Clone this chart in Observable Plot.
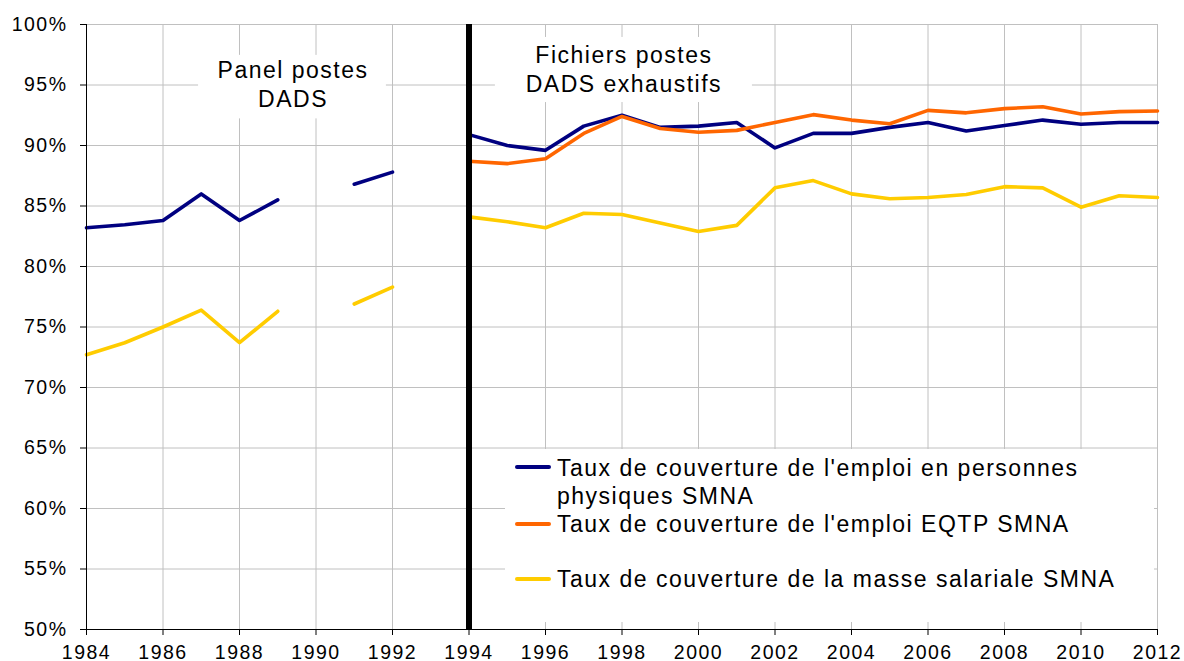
<!DOCTYPE html>
<html><head><meta charset="utf-8">
<script src="https://cdn.jsdelivr.net/npm/d3@7"></script>
<script src="https://cdn.jsdelivr.net/npm/@observablehq/plot@0.6"></script>
<style>
html,body{margin:0;padding:0;background:#fff;}
#wrap{position:relative;width:1184px;height:661px;overflow:hidden;font-family:"Liberation Sans",Arial,sans-serif;}
#legend{position:absolute;left:505px;top:449px;width:649px;height:173px;background:#fff;}
#legend .sw{position:absolute;left:10px;width:36px;height:4px;border-radius:2px;}
#legend .txt{position:absolute;left:52px;font-size:23px;line-height:28px;letter-spacing:1.5px;color:#000;white-space:nowrap;}
</style></head>
<body><div id="wrap"></div>
<script>
const years = [1984,1985,1986,1987,1988,1989,1990,1991,1992,1993,1994,1995,1996,1997,1998,1999,2000,2001,2002,2003,2004,2005,2006,2007,2008,2009,2010,2011,2012];
const personnes = [83.2,83.45,83.8,86.0,83.8,85.5,null,86.8,87.8,null,90.9,90.0,89.6,91.6,92.5,91.5,91.6,91.9,89.8,91.0,91.0,91.5,91.9,91.2,91.65,92.1,91.75,91.9,91.9];
const eqtp = [null,null,null,null,null,null,null,null,null,null,88.7,88.5,88.9,91.0,92.4,91.4,91.1,91.25,91.9,92.55,92.1,91.8,92.9,92.7,93.05,93.2,92.6,92.8,92.85];
const masse = [72.7,73.7,75.0,76.4,73.7,76.3,null,76.9,78.3,null,84.1,83.7,83.2,84.4,84.3,83.6,82.9,83.4,86.5,87.1,86.0,85.6,85.7,85.95,86.6,86.5,84.9,85.85,85.7];
const seriesNames = ["Taux de couverture de l'emploi en personnes physiques SMNA","Taux de couverture de l'emploi EQTP SMNA","Taux de couverture de la masse salariale SMNA"];
const legendLines = [["Taux de couverture de l'emploi en personnes","physiques SMNA"],["Taux de couverture de l'emploi EQTP SMNA"],["Taux de couverture de la masse salariale SMNA"]];
const seriesColors = ["#000080","#ff6600","#ffcc00"];
const xTicks = [1984,1986,1988,1990,1992,1994,1996,1998,2000,2002,2004,2006,2008,2010,2012];
const yTicks = [50,55,60,65,70,75,80,85,90,95,100];
const annotPanel = ["Panel postes","DADS"];
const annotFichiers = ["Fichiers postes","DADS exhaustifs"];
const breakYear = 1994;

const seriesValues = [personnes, eqtp, masse];
const rows = [];
seriesNames.forEach((s, si) => years.forEach((yr, i) => rows.push({series: s, year: yr, value: seriesValues[si][i]})));

const annots = [
  {text: annotPanel[0], x: 1989.4, y: 96.2},
  {text: annotPanel[1], x: 1989.4, y: 93.8},
  {text: annotFichiers[0], x: 1998.05, y: 97.45},
  {text: annotFichiers[1], x: 1998.05, y: 95.05}
];
const boxes = [
  {x1: 1986.93, x2: 1991.84, y1: 92.2, y2: 97.45},
  {x1: 1994.69, x2: 2001.41, y1: 93.55, y2: 98.93}
];

const chart = Plot.plot({
  width: 1184, height: 661,
  marginLeft: 86, marginRight: 27, marginTop: 24, marginBottom: 32,
  style: {fontFamily: "'Liberation Sans', Arial, sans-serif", fontSize: "19.5px", letterSpacing: "1.5px", color: "#000", background: "#fff"},
  x: {domain: [1984, 2012]},
  y: {domain: [50, 100]},
  color: {domain: seriesNames, range: seriesColors},
  marks: [
    Plot.ruleX(xTicks.slice(1), {stroke: "#c0c0c0", strokeWidth: 1}),
    Plot.ruleY(yTicks.slice(1), {stroke: "#c0c0c0", strokeWidth: 1}),
    Plot.rect(boxes, {x1: "x1", x2: "x2", y1: "y1", y2: "y2", fill: "#fff"}),
    Plot.text(annots, {x: "x", y: "y", text: "text", fontSize: 23, fill: "#000", textAnchor: "middle"}),
    Plot.line(rows, {x: "year", y: "value", z: "series", stroke: "series", strokeWidth: 3.6}),
    Plot.ruleX([breakYear], {stroke: "#000", strokeWidth: 6}),
    Plot.ruleX([1984], {stroke: "#000", strokeWidth: 1}),
    Plot.ruleY([50], {stroke: "#000", strokeWidth: 1}),
    Plot.axisX({ticks: xTicks, tickFormat: d => String(d), tickSize: 6, tickPadding: 10, label: null, fontSize: 19.5}),
    Plot.axisY({ticks: yTicks, tickFormat: d => d + "%", tickSize: 6, tickPadding: 13, label: null, fontSize: 19.5})
  ]
});
const wrap = document.getElementById("wrap");
wrap.appendChild(chart);

const legend = document.createElement("div");
legend.id = "legend";
const swTops = [16, 73, 128];
const txtTops = [5, 61, 116];
legendLines.forEach((lines, i) => {
  const sw = document.createElement("div");
  sw.className = "sw";
  sw.style.top = swTops[i] + "px";
  sw.style.background = seriesColors[i];
  legend.appendChild(sw);
  const t = document.createElement("div");
  t.className = "txt";
  t.style.top = txtTops[i] + "px";
  t.innerHTML = lines.map(l => l.replace(/&/g,"&amp;").replace(/</g,"&lt;")).join("<br>");
  legend.appendChild(t);
});
wrap.appendChild(legend);
</script>
</body></html>
